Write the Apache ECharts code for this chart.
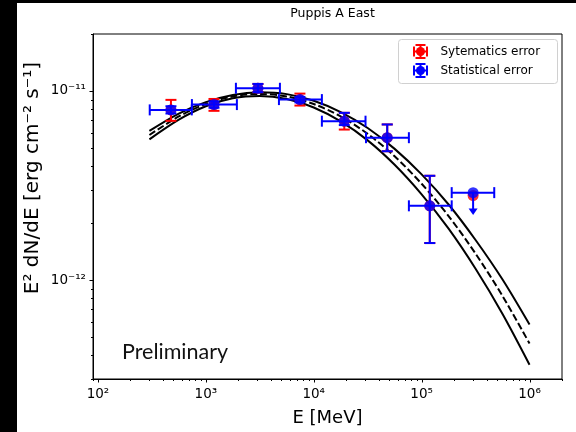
<!DOCTYPE html>
<html>
<head>
<meta charset="utf-8">
<script src="https://cdn.jsdelivr.net/npm/echarts@6/dist/echarts.min.js"></script>
<style>html,body{margin:0;padding:0;background:#fff}#c{width:576px;height:432px}</style>
</head>
<body>
<div id="c"></div>
<script>
// ---- data ----
const curveE = [300, 562, 1000, 1778, 3162, 5623, 10000, 17783, 31623, 56234, 100000, 177828, 316228, 562341, 1000000];
const upperCurve = [6.15e-12, 7.59e-12, 8.73e-12, 9.53e-12, 9.84e-12, 9.62e-12, 8.87e-12, 7.73e-12, 6.37e-12, 4.94e-12, 3.62e-12, 2.51e-12, 1.63e-12, 1.007e-12, 5.82e-13];
const bestCurve  = [5.85e-12, 7.33e-12, 8.53e-12, 9.35e-12, 9.64e-12, 9.35e-12, 8.53e-12, 7.33e-12, 5.93e-12, 4.51e-12, 3.23e-12, 2.18e-12, 1.38e-12, 8.24e-13, 4.62e-13];
const lowerCurve = [5.55e-12, 7.05e-12, 8.30e-12, 9.14e-12, 9.40e-12, 9.06e-12, 8.17e-12, 6.90e-12, 5.48e-12, 4.07e-12, 2.84e-12, 1.87e-12, 1.148e-12, 6.62e-13, 3.57e-13];

const pointE = [475, 1190, 3040, 7450, 19200, 48000, 119000];
const pointF = [7.94e-12, 8.47e-12, 1.033e-11, 9.0e-12, 6.92e-12, 5.66e-12, 2.47e-12];
const binLo  = [302, 743, 1900, 4760, 11900, 30500, 76200];
const binHi  = [741, 1940, 4860, 11900, 30200, 76200, 190000];
const statLo = [7.6e-12, 8.15e-12, 9.85e-12, 8.7e-12, 6.6e-12, 4.80e-12, 1.57e-12];
const statHi = [8.3e-12, 8.8e-12, 1.089e-11, 9.3e-12, 7.66e-12, 6.65e-12, 3.56e-12];
const systLo = [6.95e-12, 7.85e-12, 9.85e-12, 8.37e-12, 6.25e-12, 4.80e-12, 1.57e-12];
const systHi = [8.97e-12, 9.07e-12, 1.089e-11, 9.68e-12, 7.66e-12, 6.65e-12, 3.56e-12];

const ulE = [300000];
const ulF = [2.9e-12];
const ulSystF = [2.8e-12];
const ulBinLo = [190000];
const ulBinHi = [471000];
const ulTip = [2.21e-12];

const xMajorTicks = [100, 1000, 10000, 100000, 1000000];
const yMajorTicks = [1e-12, 1e-11];
const xRange = [90, 2e6];
const yRange = [3e-13, 2e-11];

// ---- build ----
const FONT = 'DejaVu Sans';
const BLUE = '#0000ff', RED = '#ff0000';
const chart = echarts.init(document.getElementById('c'), null, {renderer: 'canvas'});

const SUP = {'0': '\u2070', '1': '\u00b9', '2': '\u00b2', '3': '\u00b3', '4': '\u2074', '5': '\u2075', '6': '\u2076', '7': '\u2077', '8': '\u2078', '9': '\u2079', '-': '\u207b'};
function isPow10(v) { const l = Math.log10(v); return Math.abs(l - Math.round(l)) < 1e-6; }
function supLabel(v) {
  if (!isPow10(v)) return '';
  const e = String(Math.round(Math.log10(v)));
  return '10' + e.split('').map(c => SUP[c]).join('');
}

function minorList(lo, hi) {
  const out = [];
  for (let n = -14; n <= 7; n++) {
    for (let k = 2; k <= 9; k++) {
      const v = k * Math.pow(10, n);
      if (v >= lo * 0.9999 && v <= hi * 1.0001) out.push(v);
    }
  }
  return out;
}
const xMinor = minorList(xRange[0], xRange[1]);
const yMinor = minorList(yRange[0], yRange[1]);

const statData = pointE.map((e, i) => [e, pointF[i], binLo[i], binHi[i], statLo[i], statHi[i]]);
const systData = pointE.map((e, i) => [e, pointF[i], systLo[i], systHi[i]]);
const ulData = ulE.map((e, i) => [e, ulF[i], ulBinLo[i], ulBinHi[i], ulTip[i]]);

function seg(x1, y1, x2, y2, color) {
  return {type: 'line', shape: {x1, y1, x2, y2}, style: {stroke: color, lineWidth: 2}};
}
const CAP = 5.5;

option = {
  animation: false,
  backgroundColor: '#fff',
  title: {
    text: 'Puppis A East', left: 327.5, top: 2, textAlign: 'center',
    textStyle: {fontFamily: FONT, fontSize: 12.5, fontWeight: 'normal', color: '#000'}
  },
  grid: {left: 93, right: 14, top: 34, bottom: 49, show: true, borderColor: '#000', borderWidth: 1, backgroundColor: '#fff'},
  xAxis: {
    type: 'log', logBase: 10, min: xRange[0], max: xRange[1],
    name: 'E [MeV]', nameLocation: 'middle', nameGap: 30,
    nameTextStyle: {fontFamily: FONT, fontSize: 18, color: '#000'},
    axisLine: {show: true, lineStyle: {color: '#000', width: 1}},
    axisTick: {show: false}, splitLine: {show: false}, minorTick: {show: false},
    axisLabel: {margin: 8, formatter: supLabel, fontFamily: FONT, fontSize: 13.5, color: '#000'}
  },
  yAxis: {
    type: 'log', logBase: 10, min: yRange[0], max: yRange[1],
    axisLine: {show: true, lineStyle: {color: '#000', width: 1}},
    axisTick: {show: false}, splitLine: {show: false}, minorTick: {show: false},
    axisLabel: {margin: 7, formatter: supLabel, fontFamily: FONT, fontSize: 13.5, color: '#000'}
  },
  graphic: [
    {type: 'rect', shape: {x: 0, y: 0, width: 17, height: 432}, style: {fill: '#000'}, z: 100},
    {type: 'rect', shape: {x: 0, y: 0, width: 576, height: 3}, style: {fill: '#000'}, z: 100},
    {type: 'text', x: 33, y: 178, rotation: Math.PI / 2, z: 50,
     style: {text: 'E\u00b2 dN/dE [erg cm\u207b\u00b2 s\u207b\u00b9]', fontFamily: FONT, fontSize: 20, fill: '#000', align: 'center', verticalAlign: 'middle'}},
    {type: 'text', left: 122, top: 341, style: {text: 'Preliminary', fontFamily: 'Lato', fontSize: 21.5, fill: '#111'}, z: 50},
    {type: 'group', left: 398, top: 39, z: 60, children: [
      {type: 'rect', shape: {x: 0, y: 0, width: 159, height: 44, r: 3}, style: {fill: 'rgba(255,255,255,0.9)', stroke: '#d0d0d0', lineWidth: 1}},
      {type: 'group', x: 22, y: 12, children: [
        seg(-6.5, 0, 6.5, 0, RED), seg(0, -6.5, 0, 6.5, RED),
        seg(-6.5, -5, -6.5, 5, RED), seg(6.5, -5, 6.5, 5, RED),
        seg(-5, -6.5, 5, -6.5, RED), seg(-5, 6.5, 5, 6.5, RED),
        {type: 'circle', shape: {cx: 0, cy: 0, r: 4.5}, style: {fill: RED}}
      ]},
      {type: 'text', x: 42, y: 12, style: {text: 'Sytematics error', fontFamily: FONT, fontSize: 12, fill: '#000', verticalAlign: 'middle'}},
      {type: 'group', x: 22, y: 31, children: [
        seg(-6.5, 0, 6.5, 0, BLUE), seg(0, -6.5, 0, 6.5, BLUE),
        seg(-6.5, -5, -6.5, 5, BLUE), seg(6.5, -5, 6.5, 5, BLUE),
        seg(-5, -6.5, 5, -6.5, BLUE), seg(-5, 6.5, 5, 6.5, BLUE),
        {type: 'circle', shape: {cx: 0, cy: 0, r: 4.5}, style: {fill: BLUE}}
      ]},
      {type: 'text', x: 42, y: 31, style: {text: 'Statistical error', fontFamily: FONT, fontSize: 12, fill: '#000', verticalAlign: 'middle'}}
    ]}
  ],
  series: [
    {
      type: 'custom', silent: true, z: 1, clip: false,
      data: [[1000, 1e-12]],
      renderItem: function (params, api) {
        const cs = params.coordSys;
        const bottom = cs.y + cs.height, left = cs.x;
        const ch = [];
        const st = {stroke: '#000', lineWidth: 1};
        xMajorTicks.forEach(v => { const p = api.coord([v, yRange[0]]); ch.push({type: 'line', shape: {x1: Math.round(p[0]) + 0.5, y1: bottom, x2: Math.round(p[0]) + 0.5, y2: bottom + 3.5}, style: st}); });
        xMinor.forEach(v => { const p = api.coord([v, yRange[0]]); ch.push({type: 'line', shape: {x1: Math.round(p[0]) + 0.5, y1: bottom, x2: Math.round(p[0]) + 0.5, y2: bottom + 2}, style: st}); });
        yMajorTicks.forEach(v => { const p = api.coord([xRange[0], v]); ch.push({type: 'line', shape: {x1: left, y1: Math.round(p[1]) + 0.5, x2: left - 3.5, y2: Math.round(p[1]) + 0.5}, style: st}); });
        yMinor.forEach(v => { const p = api.coord([xRange[0], v]); ch.push({type: 'line', shape: {x1: left, y1: Math.round(p[1]) + 0.5, x2: left - 2, y2: Math.round(p[1]) + 0.5}, style: st}); });
        return {type: 'group', children: ch};
      }
    },
    {type: 'line', data: curveE.map((e, i) => [e, upperCurve[i]]), showSymbol: false, smooth: 0.3, z: 2,
     lineStyle: {color: '#000', width: 2}},
    {type: 'line', data: curveE.map((e, i) => [e, bestCurve[i]]), showSymbol: false, smooth: 0.3, z: 2,
     lineStyle: {color: '#000', width: 2, type: [7, 3]}},
    {type: 'line', data: curveE.map((e, i) => [e, lowerCurve[i]]), showSymbol: false, smooth: 0.3, z: 2,
     lineStyle: {color: '#000', width: 2}},
    {
      type: 'custom', z: 3, data: systData, encode: {x: 0, y: 1},
      renderItem: function (params, api) {
        const e = api.value(0);
        const b = api.coord([e, api.value(2)]), t = api.coord([e, api.value(3)]);
        return {type: 'group', children: [
          seg(b[0], b[1], t[0], t[1], RED),
          seg(b[0] - CAP, b[1], b[0] + CAP, b[1], RED),
          seg(t[0] - CAP, t[1], t[0] + CAP, t[1], RED)
        ]};
      }
    },
    {type: 'scatter', z: 4, symbol: 'circle', symbolSize: 11, itemStyle: {color: RED},
     data: pointE.map((e, i) => [e, pointF[i]]).concat(ulE.map((e, i) => [e, ulSystF[i]]))},
    {
      type: 'custom', z: 5, data: statData, encode: {x: 0, y: 1},
      renderItem: function (params, api) {
        const e = api.value(0), f = api.value(1);
        const l = api.coord([api.value(2), f]), h = api.coord([api.value(3), f]);
        const b = api.coord([e, api.value(4)]), t = api.coord([e, api.value(5)]);
        return {type: 'group', children: [
          seg(l[0], l[1], h[0], h[1], BLUE),
          seg(l[0], l[1] - CAP, l[0], l[1] + CAP, BLUE),
          seg(h[0], h[1] - CAP, h[0], h[1] + CAP, BLUE),
          seg(b[0], b[1], t[0], t[1], BLUE),
          seg(b[0] - CAP, b[1], b[0] + CAP, b[1], BLUE),
          seg(t[0] - CAP, t[1], t[0] + CAP, t[1], BLUE)
        ]};
      }
    },
    {
      type: 'custom', z: 5, data: ulData, encode: {x: 0, y: 1},
      renderItem: function (params, api) {
        const e = api.value(0), f = api.value(1);
        const c = api.coord([e, f]);
        const l = api.coord([api.value(2), f]), h = api.coord([api.value(3), f]);
        const tip = api.coord([e, api.value(4)]);
        return {type: 'group', children: [
          seg(l[0], l[1], h[0], h[1], BLUE),
          seg(l[0], l[1] - CAP, l[0], l[1] + CAP, BLUE),
          seg(h[0], h[1] - CAP, h[0], h[1] + CAP, BLUE),
          seg(c[0], c[1], tip[0], tip[1] - 3, BLUE),
          {type: 'polygon', shape: {points: [[tip[0] - 4.5, tip[1] - 6.5], [tip[0] + 4.5, tip[1] - 6.5], [tip[0], tip[1]]]}, style: {fill: BLUE}}
        ]};
      }
    },
    {type: 'scatter', z: 6, symbol: 'circle', symbolSize: 11, itemStyle: {color: BLUE},
     data: pointE.map((e, i) => [e, pointF[i]]).concat(ulE.map((e, i) => [e, ulF[i]]))}
  ]
};
chart.setOption(option);
</script>
</body>
</html>
